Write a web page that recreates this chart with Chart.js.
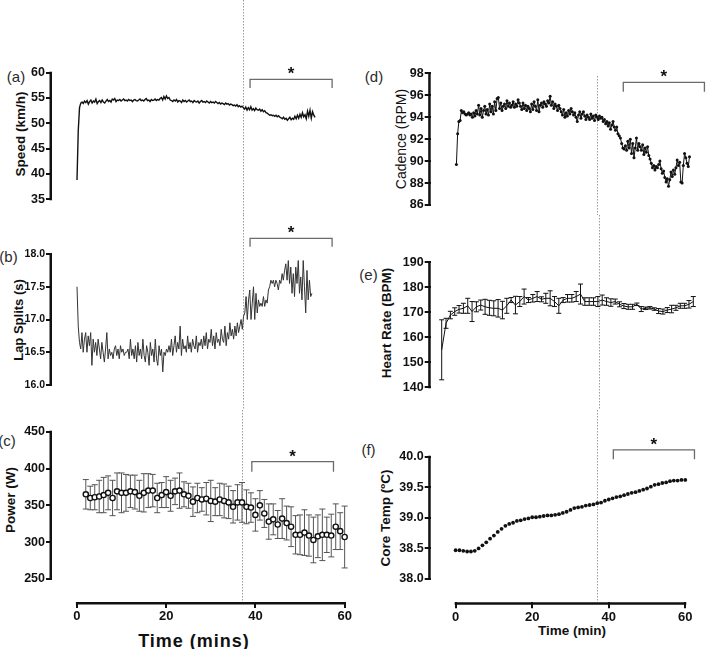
<!DOCTYPE html>
<html>
<head>
<meta charset="utf-8">
<title>Time trial panels</title>
<script src="https://cdn.jsdelivr.net/npm/chart.js@4.4.1/dist/chart.umd.min.js"></script>
<style>
  html, body { margin: 0; padding: 0; background: #fff; }
  body { position: relative; width: 709px; height: 649px; overflow: hidden;
         font-family: "Liberation Sans", Arial, sans-serif; color: #111; }
  canvas { position: absolute; }
  .tag, .ytitle, .xtitle { position: absolute; white-space: nowrap; line-height: 1; }
  .tag { font-size: 15px; color: #2b2b2b; transform: translate(-50%, -50%); }
  .ytitle { font-size: 13.5px; font-weight: bold; transform: translate(-50%, -50%) rotate(-90deg); }
  .xtitle { font-weight: bold; transform: translate(-50%, -50%); }
</style>
</head>
<body>
<div class="tag" style="left:16px;top:75.5px">(a)</div>
<div class="tag" style="left:8.5px;top:255.5px">(b)</div>
<div class="tag" style="left:7px;top:440px">(c)</div>
<div class="tag" style="left:374px;top:75.5px">(d)</div>
<div class="tag" style="left:368.5px;top:273.5px">(e)</div>
<div class="tag" style="left:368.5px;top:448.5px">(f)</div>

<div class="ytitle" style="left:21px;top:134px">Speed (km/h)</div>
<div class="ytitle" style="left:18px;top:319.5px;font-size:13px">Lap Splits (s)</div>
<div class="ytitle" style="left:11px;top:500px">Power (W)</div>
<div class="ytitle" style="left:401px;top:139px;font-weight:normal;font-size:14px">Cadence (RPM)</div>
<div class="ytitle" style="left:387px;top:323px">Heart Rate (BPM)</div>
<div class="ytitle" style="left:386px;top:517.5px">Core Temp (ºC)</div>

<div class="xtitle" style="left:194px;top:641px;font-size:18px;letter-spacing:1px">Time (mins)</div>
<div class="xtitle" style="left:572px;top:631px;font-size:13.5px">Time (min)</div>

<script>
Chart.defaults.font.family = '"Liberation Sans", Arial, sans-serif';
Chart.defaults.color = '#111';

// ---------- values ----------

// (a) speed, km/h, one sample per lap
const speed = [
  38.8, 48.6, 53.1, 54.0,
  54.2, 53.9, 54.4, 54.1, 54.5, 53.8, 54.3, 54.6, 54.0, 54.4, 54.2, 54.8, 53.9, 54.3, 54.5, 54.1, 54.6, 54.2, 54.0, 54.4, 54.7, 54.3, 54.5,
  54.2, 54.8, 54.6, 54.9, 54.3, 54.6, 54.5, 54.7, 54.4, 54.6, 54.8, 54.5, 54.6, 54.4, 54.7, 54.5, 54.6, 54.3, 54.6, 54.7,
  54.5, 54.4, 54.6, 54.8, 54.5, 54.6, 54.4, 54.7, 54.9, 54.5, 54.6, 54.3, 54.7, 54.5, 54.6, 54.8, 54.5, 54.7, 54.6, 54.9,
  55.1, 54.6, 55.3, 54.8, 55.4, 54.9, 55.1, 54.6,
  54.5, 54.3, 54.6, 54.4, 54.7, 54.2, 54.5, 54.4, 54.1, 54.6, 54.3, 54.5, 54.2, 54.4, 54.6, 54.3,
  54.4, 54.1, 54.5, 54.3, 54.2, 54.4, 54.0, 54.3, 54.5, 54.2, 54.3, 54.1, 54.4, 54.2, 54.0, 54.3, 54.1, 54.2, 54.0, 54.3, 54.1,
  53.9, 54.1, 53.8, 54.0, 53.9, 53.7, 54.0, 53.8, 53.9, 53.6, 53.8, 53.7, 53.5,
  53.6, 53.4, 53.7, 53.3, 53.5, 53.2, 53.4, 53.1,
  52.8, 53.2, 52.6, 53.1, 52.7, 53.3, 52.6, 52.9, 52.5, 53.0, 52.7,
  52.6, 52.8, 52.4, 52.7, 52.3, 52.5, 52.1, 52.0,
  51.8, 51.6, 51.7, 51.5, 51.6, 51.4, 51.6, 51.3, 51.5, 51.2,
  51.1, 50.9, 51.2, 50.8, 51.0, 50.6, 50.9, 51.2, 50.7, 51.0, 50.8,
  51.4, 50.9, 51.6, 51.0, 51.8, 51.2, 52.1, 51.3, 51.7, 50.9, 52.4, 51.4, 52.6, 51.0, 52.3, 51.6, 51.2
];
const speedSpan = [0, 53.1]; // minutes covered by the speed trace

// (b) lap splits, s
const lapSplits = [
  17.50, 16.90,
  16.65, 16.55, 16.80, 16.50, 16.70, 16.80, 16.50, 16.75, 16.60, 16.80, 16.30, 16.70, 16.50, 16.65, 16.45, 16.70, 16.55,
  16.40, 16.65, 16.50, 16.35, 16.55, 16.80, 16.40, 16.55, 16.45, 16.50, 16.40, 16.55, 16.60, 16.45, 16.55, 16.40, 16.60,
  16.50, 16.55, 16.45, 16.50, 16.50, 16.55, 16.40, 16.70, 16.45, 16.55, 16.40, 16.60, 16.35, 16.65, 16.45, 16.55,
  16.40, 16.70, 16.45, 16.35, 16.60, 16.50, 16.30, 16.65, 16.45, 16.55, 16.35, 16.70, 16.40, 16.30, 16.60, 16.45, 16.55,
  16.20, 16.50, 16.45, 16.55, 16.50,
  16.60, 16.50, 16.70, 16.45, 16.60, 16.75, 16.50, 16.65, 16.55, 16.90, 16.45, 16.70, 16.55, 16.60, 16.50, 16.75, 16.55,
  16.65, 16.50, 16.70, 16.60, 16.55, 16.75, 16.50, 16.65, 16.60, 16.70,
  16.55, 16.75, 16.60, 16.80, 16.55, 16.70, 16.65, 16.85, 16.60, 16.75, 16.55, 16.80, 16.65, 16.70, 16.60, 16.85, 16.70,
  16.65, 16.90, 16.60, 16.80, 16.70, 16.95, 16.75, 16.85, 16.70, 16.90,
  16.75, 16.95, 16.80, 16.90, 17.00, 16.85, 17.05,
  17.10, 17.35, 17.00, 17.30, 17.45, 17.00, 17.25, 17.50, 17.00, 17.40, 17.10, 17.30, 17.20, 17.25, 17.20, 17.35, 17.20,
  17.30, 17.25, 17.45,
  17.50, 17.60, 17.55, 17.60, 17.50, 17.60, 17.55, 17.45, 17.60, 17.55, 17.70, 17.60, 17.75,
  17.85, 17.60, 17.90, 17.55, 17.80, 17.40, 17.70, 17.35, 17.80, 17.55, 17.90, 17.40, 17.65, 17.30, 17.90, 17.50, 17.10,
  17.75, 17.30, 17.60, 17.35, 17.40
];
const lapSpan = [0, 52.4];

// (c) power, W, mean and SD per minute (minutes 2-60)
const power = [
  365, 360, 361, 362, 364, 367, 360, 369, 367, 367, 369, 368, 363, 367, 370, 370, 360, 364, 368, 363,
  369, 370, 365, 363, 355, 360, 358, 359, 356, 355, 358, 356, 354, 348, 354, 354, 348, 347, 337, 350,
  339, 328, 331, 324, 332, 326, 321, 310, 310, 313, 309, 303, 308, 310, 310, 309, 321, 315, 307
];
const powerSd = [
  20, 16, 17, 22, 24, 23, 24, 25, 27, 25, 22, 23, 21, 26, 23, 22, 20, 17, 21, 21,
  18, 24, 17, 17, 20, 20, 16, 22, 28, 19, 22, 23, 22, 22, 24, 27, 23, 20, 22, 20,
  19, 24, 21, 19, 27, 23, 27, 26, 27, 31, 28, 31, 29, 35, 24, 29, 31, 25, 42
];
const powerFirstMinute = 2;

// (d) cadence, RPM, one sample per lap
const cadence = [
  89.7, 92.5, 93.6, 93.7, 94.6,
  94.4, 94.5, 94.3, 94.2, 94.3, 94.4, 94.2, 94.3, 94.0, 94.4,
  94.1, 94.6, 94.3, 95.1, 94.2, 94.8, 94.0, 94.6, 95.0, 94.3, 94.7,
  94.2, 95.2, 94.5, 95.0, 94.3, 95.4, 94.6, 95.7, 95.8, 94.8, 95.3, 94.6, 95.0,
  95.2, 94.8, 95.5, 95.0, 95.3, 94.9, 95.1, 95.4, 94.9, 95.2, 95.0, 95.6, 95.3,
  95.0, 94.7, 95.3, 94.8, 95.1, 94.6, 95.0, 94.8, 94.5, 95.2, 94.7,
  95.4, 95.0, 94.6, 95.6, 94.5, 95.1, 95.3, 94.9, 95.4, 95.2, 95.0,
  95.5, 95.3, 95.9, 95.1, 95.4, 94.8, 95.2, 95.0, 94.6, 95.1, 94.8,
  94.5, 94.2, 94.7, 94.0, 94.4, 94.1, 94.6, 94.3, 94.8, 94.5, 94.2,
  94.4, 94.0, 93.6, 94.2, 94.5, 93.9, 94.3, 94.5, 94.1, 93.8, 94.2,
  94.0, 93.8, 94.3, 93.9, 94.1, 93.7, 94.2, 94.0, 93.8, 94.1, 93.9,
  94.0, 93.6, 93.8, 93.4, 93.6, 93.2, 93.5, 92.9, 93.3, 93.6, 93.1,
  92.8, 93.1, 92.5, 92.3, 92.1,
  91.6, 91.2, 91.1, 91.4, 91.0,
  91.8, 91.2, 92.0, 90.7, 91.6, 90.3, 91.2, 92.1, 91.0, 91.6, 91.3,
  91.0, 91.5, 90.6, 91.2, 90.8, 91.3, 90.5, 90.2,
  89.8, 89.4, 89.6, 89.2, 89.5, 89.4, 89.7, 90.0,
  89.3, 88.9, 89.1, 88.5, 88.1, 88.4, 87.7, 88.3,
  89.0, 88.6, 89.2, 88.8, 89.4, 90.1, 89.6, 89.9,
  88.1, 88.0, 89.6, 90.7, 90.3, 89.8, 89.5, 90.4
];
const cadenceSpan = [0.2, 61.1];

// (e) heart rate, BPM, mean and SD per minute (minutes 1-59)
const heartRate = [
  155.0, 165.6, 168.9, 170.3, 171.2, 171.6, 172.6, 170.3, 172.2, 172.9, 172.2, 171.8, 171.6, 171.6, 170.9,
  172.6, 174.9, 172.9, 174.3, 176.3, 174.9, 175.6, 176.3, 175.2, 175.6, 175.6, 174.3, 172.6, 174.9, 175.6,
  175.6, 176.3, 177.3, 174.3, 174.3, 174.3, 174.3, 174.9, 174.3, 173.9, 174.3, 173.2, 172.5, 172.2, 172.2,
  173.2, 171.3, 171.6, 171.8, 171.3, 170.5, 170.3, 170.9, 171.3, 171.8, 172.6, 172.6, 173.2, 174.3
];
const heartRateSd = [
  12, 2, 1.5, 1.5, 1.5, 2, 3, 4, 2, 2, 3, 3, 3, 3.5, 3.5,
  3, 1, 3.5, 2, 3, 1, 1.5, 2, 1, 2, 3, 2, 3, 1, 1.5,
  1.5, 2, 4, 1.5, 1.5, 1.5, 2, 2, 1.5, 1.5, 1, 1, 1, 1, 1,
  0.5, 1, 0.5, 0.5, 0.5, 1, 1, 1, 1.5, 1, 1, 1, 1.5, 2
];
const heartRateFirstMinute = 1;

// (f) core temperature, degC, minutes 0-60
const coreTemp = [
  38.47, 38.47, 38.46, 38.45, 38.45, 38.46, 38.50, 38.55, 38.60, 38.66, 38.71, 38.77, 38.82, 38.87, 38.90, 38.92,
  38.95, 38.96, 38.98, 38.99, 39.01, 39.01, 39.02, 39.03, 39.04, 39.04, 39.05, 39.06, 39.08, 39.10, 39.13, 39.16,
  39.17, 39.18, 39.20, 39.21, 39.22, 39.24, 39.25, 39.28, 39.30, 39.32, 39.34, 39.35, 39.37, 39.39, 39.41, 39.42,
  39.44, 39.46, 39.48, 39.51, 39.54, 39.55, 39.57, 39.58, 39.60, 39.61, 39.61, 39.62, 39.62
];

// tick labels
const timeTicks = [0, 20, 40, 60];
const speedTicks = [35, 40, 45, 50, 55, 60];
const lapTicks = [16.0, 16.5, 17.0, 17.5, 18.0];
const powerTicks = [250, 300, 350, 400, 450];
const cadenceTicks = [86, 88, 90, 92, 94, 96, 98];
const hrTicks = [140, 150, 160, 170, 180, 190];
const tempTicks = [38.0, 38.5, 39.0, 39.5, 40.0];

// minutes spanned by each "*" bracket
const speedSig = [38.6, 56.9];
const lapSig = [38.6, 56.9];
const powerSig = [39.2, 57.5];
const cadenceSig = [43.8, 65.0];
const tempSig = [41.2, 62.4];

// ---------- building the series ----------
function spread(values, span) {
  const step = (span[1] - span[0]) / (values.length - 1);
  return values.map((v, i) => ({ x: span[0] + i * step, y: v }));
}
function byMinute(values, first) {
  return values.map((v, i) => ({ x: first + i, y: v }));
}

// value that sits at pixel px, given two anchors [v0, p0, v1, p1]
function valueAt(map, px) {
  const [v0, p0, v1, p1] = map;
  return v0 + (px - p0) * (v1 - v0) / (p1 - p0);
}

// dotted fatigue line, error bars, prism-style axis lines and the * brackets
const prism = {
  id: 'prism',
  beforeDatasetsDraw(chart, args, o) {
    const { ctx, chartArea: a, scales: { x, y } } = chart;
    ctx.save();
    const px = Math.round(x.getPixelForValue(o.ref)) + 0.5;
    ctx.strokeStyle = '#9b9b9b';
    ctx.lineWidth = 1;
    ctx.setLineDash([1.5, 1.5]);
    ctx.beginPath();
    ctx.moveTo(px, o.refTop);
    ctx.lineTo(px, o.refToAxis ? a.bottom : chart.height);
    ctx.stroke();
    ctx.setLineDash([]);

    chart.data.datasets.forEach((ds, di) => {
      if (!ds.errorBars) return;
      const meta = chart.getDatasetMeta(di);
      const w = ds.capWidth / 2;
      ctx.strokeStyle = ds.errorColor;
      ctx.lineWidth = 1;
      meta.data.forEach((el, i) => {
        const v = ds.data[i].y, e = ds.errorBars[i];
        const top = y.getPixelForValue(v + e), bot = y.getPixelForValue(v - e);
        ctx.beginPath();
        ctx.moveTo(el.x, top); ctx.lineTo(el.x, bot);
        ctx.moveTo(el.x - w, top); ctx.lineTo(el.x + w, top);
        ctx.moveTo(el.x - w, bot); ctx.lineTo(el.x + w, bot);
        ctx.stroke();
      });
    });
    ctx.restore();
  },
  afterDraw(chart, args, o) {
    const { ctx, chartArea: a, scales: { x, y } } = chart;
    ctx.save();
    ctx.strokeStyle = '#111';
    ctx.lineWidth = 2.5;
    const yt = y.ticks;
    ctx.beginPath();
    ctx.moveTo(a.left - 1.25, y.getPixelForValue(yt[0].value) + 1);
    ctx.lineTo(a.left - 1.25, y.getPixelForValue(yt[yt.length - 1].value) - 1);
    ctx.stroke();
    if (x.options.display) {
      const xt = x.ticks;
      ctx.beginPath();
      ctx.moveTo(x.getPixelForValue(xt[0].value) - 1, a.bottom + 1.25);
      ctx.lineTo(x.getPixelForValue(xt[xt.length - 1].value) + 1, a.bottom + 1.25);
      ctx.stroke();
    }
    if (o.bracket) {
      const b = o.bracket;
      const x1 = x.getPixelForValue(b.range[0]), x2 = x.getPixelForValue(b.range[1]);
      const yl = y.getPixelForValue(b.y), yd = y.getPixelForValue(b.drop);
      ctx.strokeStyle = '#6b6b6b';
      ctx.lineWidth = 1.3;
      ctx.beginPath();
      ctx.moveTo(x1, yd); ctx.lineTo(x1, yl); ctx.lineTo(x2, yl); ctx.lineTo(x2, yd);
      ctx.stroke();
      ctx.fillStyle = '#111';
      ctx.font = 'bold 17px "Liberation Sans", Arial, sans-serif';
      ctx.textAlign = 'center';
      ctx.textBaseline = 'alphabetic';
      ctx.fillText('*', (x1 + x2) / 2, yl);
    }
    ctx.restore();
  }
};

const markGrid = { drawOnChartArea: false, drawTicks: true, tickLength: 6, color: '#111', lineWidth: 2 };

function makePanel(p) {
  const [bx, by, bw, bh] = p.box;
  const [al, at, ar, ab] = p.area;
  const xh = p.xTicks ? p.xAxisHeight : 0;
  const yFont = { size: p.tickSize || 12.5, weight: 'bold' };
  const cv = document.createElement('canvas');
  cv.width = bw; cv.height = bh;
  cv.style.left = bx + 'px'; cv.style.top = by + 'px';
  document.body.appendChild(cv);

  return new Chart(cv.getContext('2d'), {
    type: 'line',
    data: { datasets: p.datasets },
    plugins: [prism],
    options: {
      responsive: false,
      animation: false,
      layout: { padding: { left: 0, top: at - by, right: bx + bw - ar, bottom: by + bh - ab - xh } },
      plugins: {
        legend: { display: false },
        tooltip: { enabled: false },
        prism: { ref: p.ref, refTop: p.refTop, refToAxis: !!p.xTicks, bracket: p.bracket || null }
      },
      scales: {
        x: {
          type: 'linear',
          display: !!p.xTicks,
          min: valueAt(p.xMap, al),
          max: valueAt(p.xMap, ar),
          afterBuildTicks: s => { s.ticks = (p.xTicks || []).map(v => ({ value: v })); },
          afterFit: s => { if (p.xTicks) s.height = xh; },
          grid: markGrid,
          border: { display: false },
          ticks: { font: { size: 13, weight: 'bold' }, color: '#111', padding: 1, maxRotation: 0, autoSkip: false }
        },
        y: {
          type: 'linear',
          min: valueAt(p.yMap, ab),
          max: valueAt(p.yMap, at),
          afterBuildTicks: s => { s.ticks = p.yTicks.map(v => ({ value: v })); },
          afterFit: s => { s.width = al - bx; },
          grid: markGrid,
          border: { display: false },
          ticks: { font: yFont, color: '#111', padding: 1, autoSkip: false,
                   callback: v => Number(v).toFixed(p.decimals) }
        }
      }
    }
  });
}

const leftX = [0, 77, 60, 346];
const rightX = [0, 456, 60, 689];

makePanel({
  box: [0, 0, 360, 215], area: [52, 72.7, 356, 199.3],
  xMap: leftX, yMap: [60, 72.7, 35, 199.3], yTicks: speedTicks, decimals: 0,
  ref: 37.1, refTop: 0, bracket: { range: speedSig, y: 58.7, drop: 57.0 },
  datasets: [{ data: spread(speed, speedSpan), borderColor: '#111', borderWidth: 1.4, pointRadius: 0 }]
});

makePanel({
  box: [0, 215, 360, 195], area: [52, 254, 356, 385],
  xMap: leftX, yMap: [18, 254, 16, 385], yTicks: lapTicks, decimals: 1, tickSize: 10.5,
  ref: 37.1, refTop: 0, bracket: { range: lapSig, y: 18.24, drop: 18.11 },
  datasets: [{ data: spread(lapSplits, lapSpan), borderColor: '#333', borderWidth: 1, pointRadius: 0 }]
});

makePanel({
  box: [0, 410, 360, 239], area: [52, 431.7, 356, 602],
  xMap: leftX, yMap: [450, 431.7, 250, 579], yTicks: powerTicks, decimals: 0,
  xTicks: timeTicks, xAxisHeight: 47,
  ref: 37.1, refTop: 0, bracket: { range: powerSig, y: 409.3, drop: 395.7 },
  datasets: [{
    data: byMinute(power, powerFirstMinute), showLine: false,
    pointRadius: 2.6, pointBorderWidth: 1.4, pointBackgroundColor: '#fff', pointBorderColor: '#111',
    errorBars: powerSd, capWidth: 6, errorColor: '#555'
  }]
});

makePanel({
  box: [360, 0, 349, 215], area: [430.7, 73.3, 709, 205],
  xMap: rightX, yMap: [98, 73.3, 86, 205], yTicks: cadenceTicks, decimals: 0,
  ref: 36.9, refTop: 76, bracket: { range: cadenceSig, y: 97.18, drop: 96.32 },
  datasets: [{
    data: spread(cadence, cadenceSpan), borderColor: '#111', borderWidth: 1,
    pointRadius: 1.5, pointBorderWidth: 0, pointBackgroundColor: '#111'
  }]
});

makePanel({
  box: [360, 215, 349, 195], area: [430.7, 262.3, 709, 387.3],
  xMap: [1, 441.7, 59, 693.3], yMap: [190, 262.3, 140, 387.3], yTicks: hrTicks, decimals: 0,
  ref: 37.3, refTop: 0,
  datasets: [{
    data: byMinute(heartRate, heartRateFirstMinute), borderColor: '#111', borderWidth: 1, pointRadius: 0,
    errorBars: heartRateSd, capWidth: 5, errorColor: '#111'
  }]
});

makePanel({
  box: [360, 410, 349, 239], area: [430.7, 456.7, 709, 602.3],
  xMap: rightX, yMap: [40, 456.7, 38, 579], yTicks: tempTicks, decimals: 1,
  xTicks: timeTicks, xAxisHeight: 46.7,
  ref: 36.9, refTop: 0, bracket: { range: tempSig, y: 40.11, drop: 39.96 },
  datasets: [{
    data: byMinute(coreTemp, 0), showLine: false,
    pointRadius: 1.9, pointBorderWidth: 0, pointBackgroundColor: '#111'
  }]
});
</script>
</body>
</html>
